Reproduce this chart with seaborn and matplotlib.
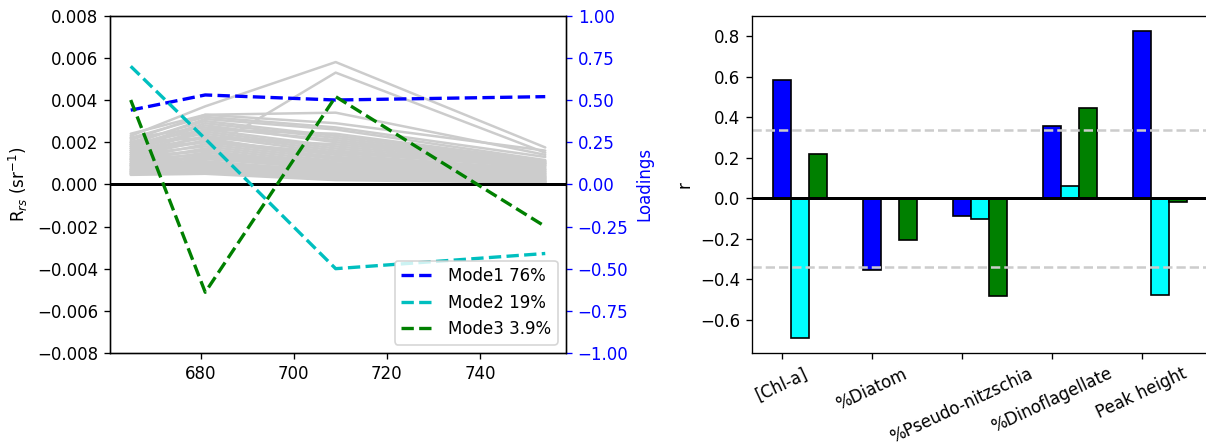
import matplotlib
matplotlib.use("Agg")
import numpy as np
import pandas as pd
import matplotlib.pyplot as plt
import seaborn as sns

sns.set_style("ticks", {"axes.edgecolor": "black", "text.color": "black",
                        "xtick.color": "black", "ytick.color": "black",
                        "axes.labelcolor": "black"})
plt.rcParams["font.family"] = ["DejaVu Sans"]
plt.rcParams["font.size"] = 10

# wavelengths (nm) of the OLCI bands used
wavelengths = [665, 681, 709, 754]

# EOF loadings of the three modes
mode1 = [0.44, 0.53, 0.50, 0.52]
mode2 = [0.70, 0.27, -0.50, -0.41]
mode3 = [0.50, -0.64, 0.52, -0.25]
mode_labels = ["Mode1 76%", "Mode2 19%", "Mode3 3.9%"]
mode_colors = ["b", "c", "g"]

# individual Rrs spectra (sr^-1) at the four wavelengths
rrs_spectra = [
    [0.00230, 0.00370, 0.00580, 0.00175],
    [0.00120, 0.00160, 0.00530, 0.00150],
    [0.00210, 0.00330, 0.00340, 0.00140],
    [0.00240, 0.00330, 0.00290, 0.00160],
    [0.00220, 0.00320, 0.00270, 0.00130],
    [0.00190, 0.00310, 0.00260, 0.00115],
    [0.00200, 0.00300, 0.00230, 0.00110],
    [0.00180, 0.00290, 0.00220, 0.00105],
    [0.00170, 0.00280, 0.00200, 0.00100],
    [0.00220, 0.00270, 0.00210, 0.00100],
    [0.00160, 0.00260, 0.00180, 0.00095],
    [0.00150, 0.00250, 0.00170, 0.00090],
    [0.00180, 0.00240, 0.00160, 0.00085],
    [0.00140, 0.00230, 0.00150, 0.00080],
    [0.00160, 0.00220, 0.00120, 0.00075],
    [0.00130, 0.00210, 0.00140, 0.00070],
    [0.00150, 0.00200, 0.00130, 0.00070],
    [0.00120, 0.00190, 0.00120, 0.00065],
    [0.00140, 0.00180, 0.00110, 0.00060],
    [0.00110, 0.00170, 0.00100, 0.00055],
    [0.00130, 0.00160, 0.00090, 0.00050],
    [0.00100, 0.00150, 0.00095, 0.00050],
    [0.00120, 0.00140, 0.00085, 0.00045],
    [0.00090, 0.00130, 0.00080, 0.00040],
    [0.00110, 0.00125, 0.00070, 0.00040],
    [0.00080, 0.00120, 0.00075, 0.00035],
    [0.00100, 0.00110, 0.00060, 0.00035],
    [0.00075, 0.00105, 0.00065, 0.00030],
    [0.00090, 0.00100, 0.00055, 0.00030],
    [0.00070, 0.00095, 0.00050, 0.00025],
    [0.00085, 0.00090, 0.00045, 0.00025],
    [0.00065, 0.00085, 0.00045, 0.00020],
    [0.00060, 0.00080, 0.00040, 0.00020],
    [0.00070, 0.00075, 0.00035, 0.00015],
    [0.00055, 0.00070, 0.00035, 0.00015],
    [0.00060, 0.00065, 0.00030, 0.00012],
    [0.00050, 0.00060, 0.00030, 0.00010],
    [0.00050, 0.00055, 0.00025, 0.00010],
    [0.00045, 0.00050, 0.00020, 0.00008],
    [0.00170, 0.00200, 0.00150, 0.00090],
    [0.00190, 0.00260, 0.00240, 0.00110],
    [0.00200, 0.00220, 0.00190, 0.00100],
    [0.00095, 0.00135, 0.00110, 0.00060],
]

# correlation of mode amplitudes with water properties
categories = ["[Chl-a]", "%Diatom", "%Pseudo-nitzschia", "%Dinoflagellate", "Peak height"]
r_mode1 = [0.584, -0.354, -0.085, 0.357, 0.826]
r_mode2 = [-0.687, 0.0, -0.102, 0.059, -0.477]
r_mode3 = [0.22, -0.203, -0.48, 0.446, -0.018]
bar_colors = ["blue", "cyan", "green"]
r_crit = 0.34

# long table for the spectra
rows = []
for i, spec in enumerate(rrs_spectra):
    for wl, v in zip(wavelengths, spec):
        rows.append({"spec": i, "wl": wl, "rrs": v})
spec_df = pd.DataFrame(rows)

fig = plt.figure(figsize=(1206 / 120, 447 / 120), dpi=120)
ax1 = fig.add_axes([0.0912, 0.2103, 0.3781, 0.7546])
ax3 = fig.add_axes([0.6235, 0.2103, 0.3775, 0.7546])

# ---- left: spectra + loadings
sns.lineplot(data=spec_df, x="wl", y="rrs", units="spec", estimator=None,
             color="0.8", lw=1.5, ax=ax1, legend=False)
ax1.axhline(0, color="k", lw=1.8)
ax1.set_ylim(-0.008, 0.008)
ax1.set_yticks(np.arange(-0.008, 0.0081, 0.002))
ax1.set_xticks([680, 700, 720, 740])
ax1.set_xlabel("")
ax1.set_ylabel("R$_{rs}$ (sr$^{-1}$)")

ax2 = ax1.twinx()
for vals, lab, col in zip([mode1, mode2, mode3], mode_labels, mode_colors):
    sns.lineplot(x=wavelengths, y=vals, ax=ax2, color=col, linestyle="--",
                 lw=2, label=lab)
ax2.set_ylim(-1, 1)
ax2.set_ylabel("Loadings", color="blue")
ax2.tick_params(axis="y", colors="blue")
ax2.spines["right"].set_color("black")
ax2.legend(loc="lower right")

# ---- right: correlation bars
x = np.arange(len(categories))
for k, (vals, col) in enumerate(zip([r_mode1, r_mode2, r_mode3], bar_colors)):
    ax3.bar(x + 0.2 * k, vals, width=0.2, color=col, edgecolor="black", lw=1)
ax3.axhline(0, color="k", lw=1.8)
ax3.axhline(r_crit, color="0.8", ls="--", lw=1.5)
ax3.axhline(-r_crit, color="0.8", ls="--", lw=1.5)
ax3.set_xticks(x)
ax3.set_xticklabels(categories, rotation=25)
ax3.set_ylabel("r")

fig.savefig("out.png", dpi=120)
